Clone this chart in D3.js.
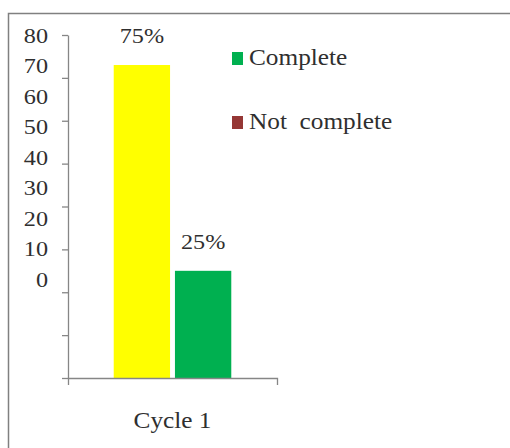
<!DOCTYPE html>
<html>
<head>
<meta charset="utf-8">
<script src="https://cdn.jsdelivr.net/npm/d3@7"></script>
<style>
  body { margin: 0; background: #fff; }
  text { font-family: "Liberation Serif", "Times New Roman", serif; fill: #2f2f2f; }
</style>
</head>
<body>
<div id="okvir"></div>
<script>
// podaci
const categories = ["Cycle 1"];
const seriesNames = ["Yes", "No"];
const seriesValues = [73, 25];
const valueLabels = ["75%", "25%"];
const barColors = ["#ffff00", "#00b050"];
const legendNames = ["Complete", "Not  complete"];
const legendColors = ["#00b050", "#953735"];
const tickValues = [0, 10, 20, 30, 40, 50, 60, 70, 80];

// tekst u originalu je malo razvucen vodoravno
const rastezanje = 1.1;
const pomak = (x, y) => `translate(${x},${y}) scale(${rastezanje},1)`;

function crtaj() {
  const sirina = 510, visina = 448;

  const svg = d3.select("#okvir")
    .append("svg")
    .attr("width", sirina)
    .attr("height", visina);

  // okvir grafa (izlazi iz slike desno i dolje)
  svg.append("rect")
    .attr("x", 8.5).attr("y", 13.5)
    .attr("width", 600).attr("height", 600)
    .attr("fill", "none")
    .attr("stroke", "#808080")
    .attr("stroke-width", 1.5);

  const ySkala = d3.scaleLinear().domain([0, 80]).range([378, 35]);
  // oznake na osi su pomaknute u originalu
  const yOznake = d3.scaleLinear().domain([0, 80]).range([279, 35]);

  const xSkala = d3.scaleBand()
    .domain(categories)
    .range([68, 277])
    .padding(0.28);

  const xSerija = d3.scaleBand()
    .domain(seriesNames)
    .range([0, xSkala.bandwidth()])
    .paddingInner(0.08);

  // y os
  svg.append("g")
    .attr("transform", "translate(68,0)")
    .call(d3.axisLeft(ySkala).tickValues(tickValues).tickSizeInner(6).tickSizeOuter(0).tickFormat(""))
    .call(g => g.selectAll("path, line").attr("stroke", "#868686").attr("stroke-width", 1.3));

  svg.append("g")
    .selectAll("text")
    .data(tickValues)
    .join("text")
    .attr("transform", d => pomak(48, yOznake(d)))
    .attr("dy", "0.35em")
    .attr("text-anchor", "end")
    .style("font-size", "22px")
    .text(d => d);

  // stupci
  const grupa = svg.append("g")
    .attr("transform", `translate(${xSkala(categories[0])},0)`);

  grupa.selectAll("rect")
    .data(seriesValues)
    .join("rect")
    .attr("x", (d, i) => xSerija(seriesNames[i]))
    .attr("y", d => ySkala(d))
    .attr("width", xSerija.bandwidth())
    .attr("height", d => ySkala(0) - ySkala(d))
    .attr("fill", (d, i) => barColors[i]);

  grupa.selectAll("text")
    .data(seriesValues)
    .join("text")
    .attr("transform", (d, i) => pomak(xSerija(seriesNames[i]) + xSerija.bandwidth() / 2, ySkala(d) - 22))
    .attr("text-anchor", "middle")
    .style("font-size", "22px")
    .text((d, i) => valueLabels[i]);

  // x os
  svg.append("g")
    .attr("transform", "translate(0,378)")
    .call(d3.axisBottom(xSkala).tickSizeInner(0).tickSizeOuter(7).tickFormat(""))
    .call(g => g.selectAll("path, line").attr("stroke", "#868686").attr("stroke-width", 1.3));

  svg.append("text")
    .attr("transform", pomak(xSkala(categories[0]) + xSkala.bandwidth() / 2, 428))
    .attr("text-anchor", "middle")
    .style("font-size", "23px")
    .text(categories[0]);

  // legenda
  const legenda = svg.append("g")
    .selectAll("g")
    .data(legendNames)
    .join("g")
    .attr("transform", (d, i) => `translate(232,${65 + i * 64})`);

  legenda.append("rect")
    .attr("x", 0).attr("y", -13)
    .attr("width", 11).attr("height", 13)
    .attr("fill", (d, i) => legendColors[i]);

  legenda.append("text")
    .attr("transform", pomak(17, 0))
    .style("font-size", "23px")
    .style("white-space", "pre")
    .text(d => d);
}
crtaj();
</script>
</body>
</html>
